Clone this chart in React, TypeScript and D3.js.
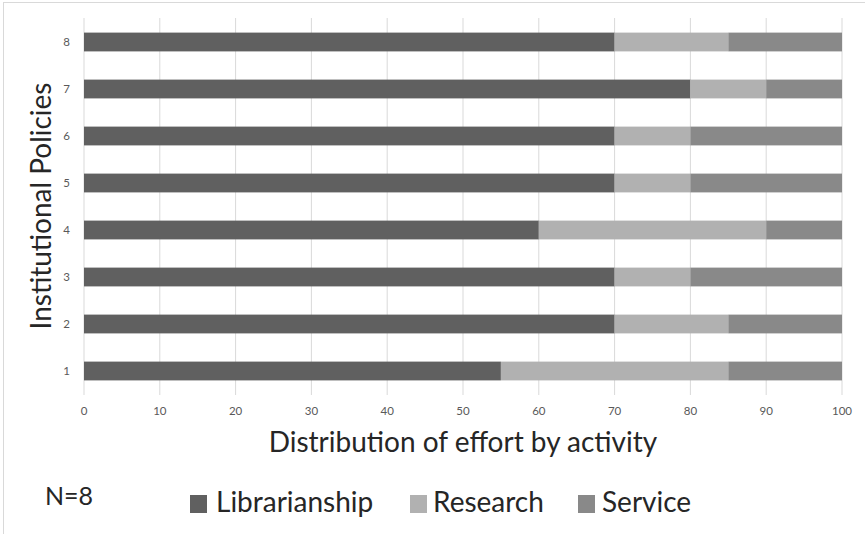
import React from "react";
import * as d3 from "d3";

const categories = ["1", "2", "3", "4", "5", "6", "7", "8"];
const librarianship = [55, 70, 70, 60, 70, 70, 80, 70];
const research = [30, 15, 10, 30, 10, 10, 10, 15];
const service = [15, 15, 20, 10, 20, 20, 10, 15];
const seriesNames = ["Librarianship", "Research", "Service"];
const seriesColors = ["#606060", "#b1b1b1", "#898989"];
const xTicks = [0, 10, 20, 30, 40, 50, 60, 70, 80, 90, 100];

const W = 865;
const H = 534;
const FONT = "Lato, 'Open Sans', sans-serif";

export default function App() {
  const x = d3.scaleLinear().domain([0, 100]).range([84, 842]);
  const y = d3
    .scaleBand<string>()
    .domain([...categories].reverse())
    .range([18.5, 394.5])
    .paddingInner(0.6)
    .paddingOuter(0.3);

  const rows = categories.map((c, i) => ({
    cat: c,
    Librarianship: librarianship[i],
    Research: research[i],
    Service: service[i],
  }));
  const stacked = d3.stack<any>().keys(seriesNames)(rows);

  const legendItems = [
    { name: seriesNames[0], sx: 190, tx: 216 },
    { name: seriesNames[1], sx: 410, tx: 433 },
    { name: seriesNames[2], sx: 578, tx: 602 },
  ];

  return (
    <svg
      width={W}
      height={H}
      style={{ position: "absolute", left: 0, top: 0, background: "#fff" }}
      fontFamily={FONT}
    >
      <rect x={3.5} y={2.5} width={900} height={600} fill="#fff" stroke="#d9d9d9" />
      {/* gridlines */}
      {xTicks.map((t) => (
        <line
          key={t}
          x1={x(t)}
          x2={x(t)}
          y1={18}
          y2={395}
          stroke="#d9d9d9"
          strokeWidth={1}
        />
      ))}
      {/* bars */}
      {stacked.map((s, si) =>
        s.map((d: any, i: number) => (
          <rect
            key={`${si}-${i}`}
            x={x(d[0])}
            y={y(categories[i])}
            width={x(d[1]) - x(d[0])}
            height={y.bandwidth()}
            fill={seriesColors[si]}
          />
        ))
      )}
      {/* x tick labels */}
      {xTicks.map((t) => (
        <text
          key={t}
          x={x(t)}
          y={415}
          textAnchor="middle"
          fontSize={11.5}
          fill="#595959"
        >
          {t}
        </text>
      ))}
      {/* y tick labels */}
      {categories.map((c) => (
        <text
          key={c}
          x={70}
          y={(y(c) as number) + y.bandwidth() / 2 + 4}
          textAnchor="end"
          fontSize={11.5}
          fill="#595959"
        >
          {c}
        </text>
      ))}
      {/* axis titles */}
      <text x={463} y={452} textAnchor="middle" fontSize={28} fill="#262626">
        Distribution of effort by activity
      </text>
      <text
        transform={`translate(51,206) rotate(-90)`}
        textAnchor="middle"
        fontSize={28}
        fill="#262626"
      >
        Institutional Policies
      </text>
      {/* N=8 */}
      <text x={45} y={505} fontSize={25} fill="#262626">
        N=8
      </text>
      {/* legend */}
      {legendItems.map((l, i) => (
        <g key={l.name}>
          <rect x={l.sx} y={495} width={17} height={18} fill={seriesColors[i]} />
          <text x={l.tx} y={512} fontSize={28} fill="#262626">
            {l.name}
          </text>
        </g>
      ))}
    </svg>
  );
}
